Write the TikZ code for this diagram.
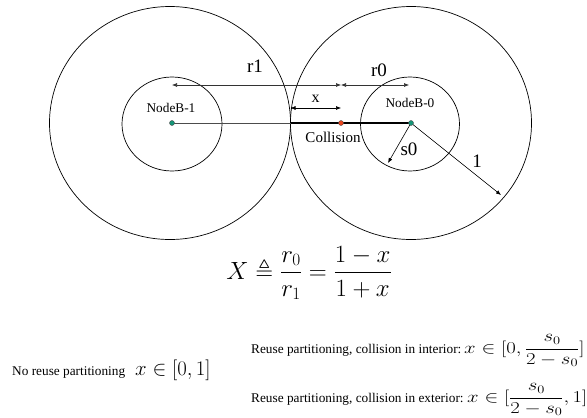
\documentclass[tikz,border=0pt]{standalone}
\usepackage{amsmath,amssymb}
\usepackage{fontspec}
\setmainfont{Liberation Serif}
\usetikzlibrary{arrows.meta}
\definecolor{nodegreen}{RGB}{20,150,120}
\definecolor{hitred}{RGB}{235,70,30}

\begin{document}
\begin{tikzpicture}[x=1pt, y=-1pt,
  ring/.style={draw, line width=0.7pt},
  dot/.style={circle, draw=black!70, line width=0.4pt, inner sep=0pt, minimum size=5pt},
  dim/.style={{Latex[length=5pt,width=4pt]}-{Latex[length=5pt,width=4pt]}, line width=0.6pt},
  ray/.style={-{Latex[length=5pt,width=4pt]}, line width=0.6pt},
  lbl/.style={font=\fontsize{19}{21}\selectfont, inner sep=0pt},
  tag/.style={font=\fontsize{13.3}{15}\selectfont, inner sep=0pt},
  xspan/.style={font=\fontsize{20}{24}\selectfont, inner sep=0pt, anchor=base west}
]
\useasboundingbox (0,0) rectangle (587,418);
% outer and inner rings
\draw[ring] (170,123) ellipse [x radius=120.5, y radius=116.5];
\draw[ring] (411,123) ellipse [x radius=120.5, y radius=116.5];
\draw[ring] (172,124) ellipse [x radius=50, y radius=47];
\draw[ring] (410,124) ellipse [x radius=49.5, y radius=47];

\coordinate (touch) at (290.5,123);
\coordinate (r1a) at (172,85);
\coordinate (mid) at (341,85);
\coordinate (r0b) at (409,85);
\coordinate (xa) at (290.5,108);
\coordinate (xb) at (341,108);
\coordinate (s0end) at (388,163);
\coordinate (oneend) at (501,195);

\draw[line width=0.6pt, black!70] (172,123) -- (touch);
\draw[line width=2pt] (touch) -- (411,123);
\draw[dim, black!80] (r1a) -- (mid);
\draw[dim, black!80] (mid) -- (r0b);
\draw[dim] (xa) -- (xb);
\draw[ray] (411,123) -- (s0end);
\draw[ray] (411,123) -- (oneend);

\node[dot, fill=nodegreen] (b1) at (172,123) {};
\node[dot, fill=hitred] (hit) at (341,123) {};
\node[dot, fill=nodegreen] (b0) at (411,123) {};

\node[tag] (b1lbl) at (171,108) {NodeB-1};
\node[tag] (b0lbl) at (410,103) {NodeB-0};
\node[tag, font=\fontsize{15}{17}\selectfont] (hitlbl) at (333,137) {Collision};
\node[lbl] (r1lbl) at (255,66) {r1};
\node[lbl] (r0lbl) at (379,70) {r0};
\node[lbl, font=\fontsize{16}{18}\selectfont] (xlbl) at (315.5,98.5) {x};
\node[lbl] (s0lbl) at (409,149) {s0};
\node[lbl] (onelbl) at (477,161) {1};

% ratio and ranges
\node[font=\fontsize{23}{27}\selectfont, inner sep=0pt] (ratio) at (309,273)
  {$X \triangleq \dfrac{r_0}{r_1} = \dfrac{1-x}{1+x}$};
\node[tag, anchor=base west] (noreuse) at (12,375) {No reuse partitioning};
\node[xspan] (noreusem) at (135,375) {$x\in[0,1]$};
\node[tag, anchor=base west] (inner) at (251,353) {Reuse partitioning, collision in interior:};
\node[xspan] (innerm) at (464,353) {\scalebox{1}[0.8]{$x\in[0,\dfrac{s_0}{2-s_0}]$}};
\node[tag, anchor=base west] (outer) at (251,402) {Reuse partitioning, collision in exterior:};
\node[xspan] (outerm) at (467,402) {\scalebox{1}[0.8]{$x\in[\dfrac{s_0}{2-s_0},1]$}};
\end{tikzpicture}
\end{document}
